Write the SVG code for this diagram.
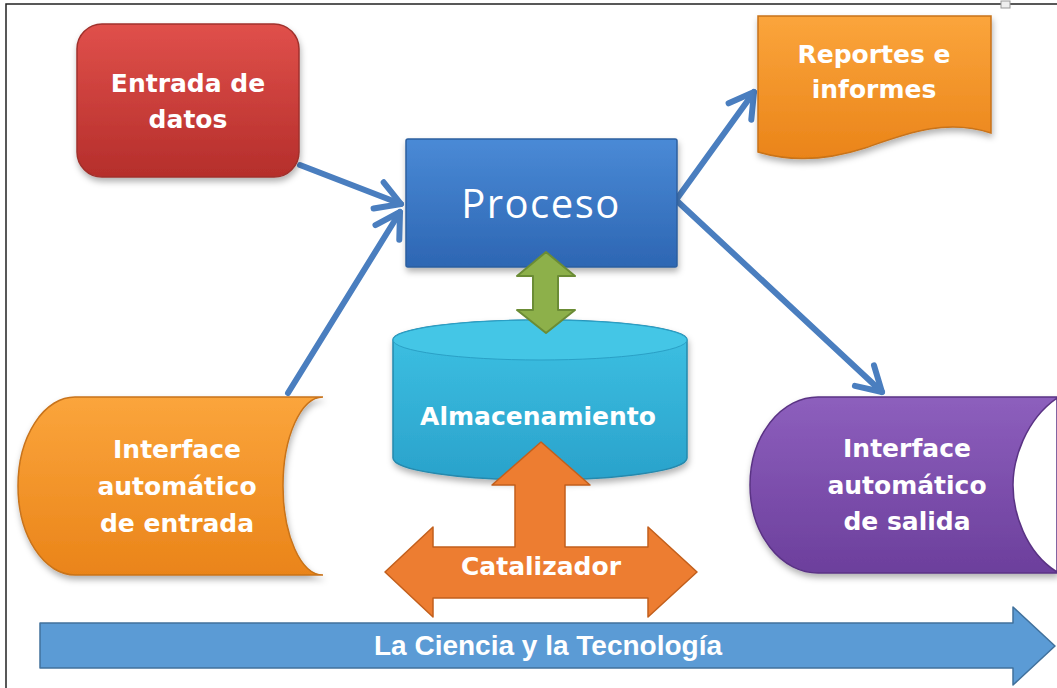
<svg xmlns="http://www.w3.org/2000/svg" width="1057" height="688" viewBox="0 0 1057 688">
<defs>
<style>
.t{font-family:"DejaVu Sans",Verdana,sans-serif;font-weight:bold;fill:#ffffff;text-anchor:middle;font-size:25px}
.conn{stroke:#4a7ebf;stroke-width:6;fill:none;stroke-linecap:round;marker-end:url(#chev)}
</style>
<marker id="chev" markerUnits="userSpaceOnUse" viewBox="-30 -20 40 40" markerWidth="40" markerHeight="40" refX="0" refY="0" orient="auto" overflow="visible">
<path d="M-24,-14 L0,0 L-24,14" fill="none" stroke="#4a7ebf" stroke-width="6" stroke-linecap="round" stroke-linejoin="round"/>
</marker>
<linearGradient id="gRed" x1="0" y1="0" x2="0" y2="1"><stop offset="0" stop-color="#e0504b"/><stop offset="1" stop-color="#b52e2b"/></linearGradient>
<linearGradient id="gBlue" x1="0" y1="0" x2="0" y2="1"><stop offset="0" stop-color="#4a8ad6"/><stop offset="1" stop-color="#2d66b3"/></linearGradient>
<linearGradient id="gOr" x1="0" y1="0" x2="0" y2="1"><stop offset="0" stop-color="#fba53c"/><stop offset="1" stop-color="#ea8419"/></linearGradient>
<linearGradient id="gCyan" x1="0" y1="0" x2="0" y2="1"><stop offset="0" stop-color="#3ec2e4"/><stop offset="1" stop-color="#2aa2cb"/></linearGradient>
<linearGradient id="gPur" x1="0" y1="0" x2="0" y2="1"><stop offset="0" stop-color="#8d5fbd"/><stop offset="1" stop-color="#6c3f9c"/></linearGradient>
<filter id="sh" x="-10%" y="-10%" width="125%" height="130%">
<feDropShadow dx="1" dy="4" stdDeviation="3" flood-color="#000" flood-opacity="0.3"/>
</filter>
</defs>
<rect width="1057" height="688" fill="#ffffff"/>
<path d="M6,688 V4 H1057" fill="none" stroke="#222" stroke-width="1.5"/>
<rect x="1001" y="1" width="9" height="7" fill="#eee" stroke="#999" stroke-width="1"/>

<g id="connectors">
<line class="conn" x1="300" y1="165" x2="401" y2="204"/>
<line class="conn" x1="288" y1="393" x2="400" y2="212"/>
<line class="conn" x1="676" y1="200" x2="754" y2="92"/>
<line class="conn" x1="676" y1="200" x2="882" y2="392"/>
</g>

<g id="entrada-datos">
<rect x="77" y="24" width="222" height="153" rx="25" fill="url(#gRed)" stroke="#a0302c" stroke-width="1.5" filter="url(#sh)"/>
<text class="t" x="188" y="92">Entrada de</text>
<text class="t" x="188" y="128">datos</text>
</g>

<g id="proceso">
<rect x="406" y="139" width="271" height="128" rx="2" fill="url(#gBlue)" stroke="#2d5f9e" stroke-width="1.5" filter="url(#sh)"/>
<text x="541" y="218" font-family="'Open Sans',sans-serif" font-size="40" fill="#ffffff" text-anchor="middle" letter-spacing="1.5">Proceso</text>
</g>

<g id="reportes">
<path d="M758,16 H991 V133 C945,118 905,134 865,148 C825,161 788,161 758,152 Z" fill="url(#gOr)" stroke="#c8731a" stroke-width="1.5" filter="url(#sh)"/>
<text class="t" x="874" y="63">Reportes e</text>
<text class="t" x="874" y="98">informes</text>
</g>

<g id="interface-entrada">
<path d="M75,397 H323 A40,89 0 0 0 323,575 H75 A57,89 0 0 1 75,397 Z" fill="url(#gOr)" stroke="#c8731a" stroke-width="1.5" filter="url(#sh)"/>
<text class="t" x="177" y="458">Interface</text>
<text class="t" x="177" y="495">automático</text>
<text class="t" x="177" y="532">de entrada</text>
</g>

<g id="interface-salida">
<path d="M818,397 H1057 V573 H818 A68,88 0 0 1 818,397 Z" fill="url(#gPur)" stroke="#5a3384" stroke-width="1.5" filter="url(#sh)"/>
<path d="M1057,398 C1025,420 1013,460 1013,485 C1013,512 1025,552 1057,572 Z" fill="#ffffff" stroke="#5a3384" stroke-width="1.5"/>
<text class="t" x="907" y="457">Interface</text>
<text class="t" x="907" y="494">automático</text>
<text class="t" x="907" y="530">de salida</text>
</g>

<g id="almacenamiento">
<path d="M393,340 A147,20 0 0 1 687,340 V458 A147,22 0 0 1 393,458 Z" fill="url(#gCyan)" stroke="#2589ad" stroke-width="1.5" filter="url(#sh)"/>
<ellipse cx="540" cy="340" rx="147" ry="20" fill="#44c6e6" stroke="#2aa0c6" stroke-width="1"/>
<text class="t" x="538" y="425">Almacenamiento</text>
</g>

<g id="flecha-proceso-almacenamiento">
<polygon points="546,252 575,276 558,276 558,310 575,310 546,333 517,310 533,310 533,276 517,276" fill="#8db04a" stroke="#6b8c35" stroke-width="2" stroke-linejoin="round"/>
</g>

<g id="catalizador">
<polygon points="541,442 590,485 565,485 565,547 648,547 648,527 697,572 648,617 648,598 433,598 433,617 385,572 433,527 433,547 515,547 515,485 492,485" fill="#ed7d31" stroke="#c25f1c" stroke-width="1.5" stroke-linejoin="round"/>
<text class="t" x="541" y="575" font-size="24">Catalizador</text>
</g>

<g id="ciencia-tecnologia">
<polygon points="40,623 1013,623 1013,607 1055,646 1013,685 1013,668 40,668" fill="#5b9bd5" stroke="#41719c" stroke-width="1.5" stroke-linejoin="round"/>
<text x="548" y="655" font-family="'Liberation Sans',Arial,sans-serif" font-weight="bold" font-size="28" fill="#ffffff" text-anchor="middle">La Ciencia y la Tecnología</text>
</g>
</svg>
